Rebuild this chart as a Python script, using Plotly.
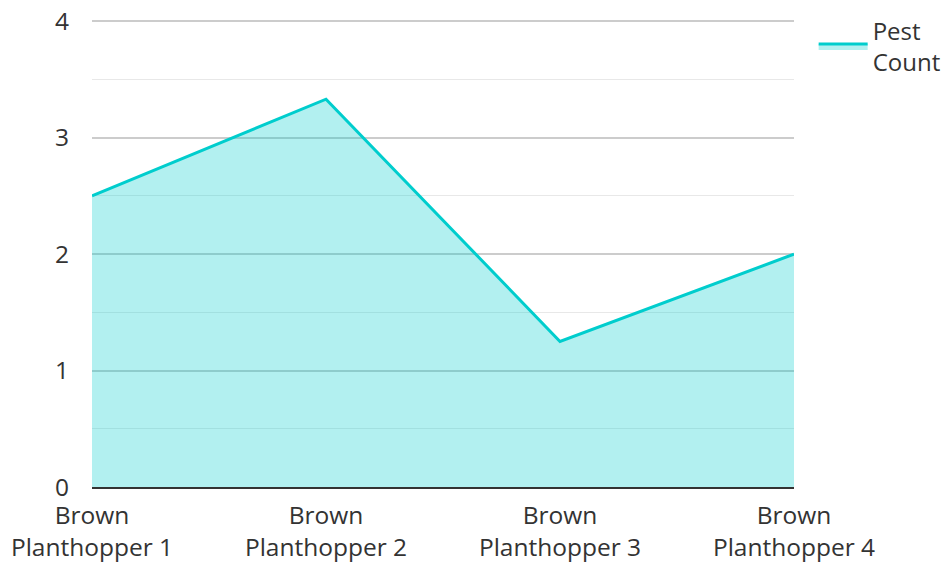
import plotly.graph_objects as go

categories = ["Brown<br>Planthopper 1", "Brown<br>Planthopper 2", "Brown<br>Planthopper 3", "Brown<br>Planthopper 4"]
pest_count = [2.5, 3.33, 1.25, 2.0]
series_name = "Pest<br>Count"

fig = go.Figure()
fig.add_trace(go.Scatter(
    x=categories, y=pest_count, name=series_name, mode="lines",
    line=dict(color="#00CDCD", width=3),
    fill="tozeroy", fillcolor="rgba(0,205,205,0.3)",
))

font = dict(family="Open Sans", size=24.5, color="#333333")
legend_font = dict(family="Open Sans", size=24, color="#333333")
fig.update_layout(
    width=943, height=555,
    margin=dict(l=84, r=157, t=12, b=76, autoexpand=False),
    paper_bgcolor="white", plot_bgcolor="white",
    font=font,
    showlegend=True,
    legend=dict(x=1.028, y=1.025, xanchor="left", yanchor="top", font=legend_font,
                itemwidth=49, bgcolor="rgba(0,0,0,0)", tracegroupgap=0),
    xaxis=dict(type="category", showgrid=False, showline=True, linecolor="#333333", linewidth=2,
               range=[0, 3], tickfont=font, ticks="", zeroline=False, automargin=False,
               ticklabelstandoff=6, ticklabeloverflow="allow"),
    yaxis=dict(range=[0, 4.01], tickvals=[0, 1, 2, 3, 4], showgrid=True, gridcolor="#cccccc", gridwidth=2,
               minor=dict(tickvals=[0.5, 1.5, 2.5, 3.5], showgrid=True, gridcolor="#e8e8e8", gridwidth=1),
               zeroline=False, showline=False, ticks="", tickfont=font,
               ticklabelstandoff=22, automargin=False, ticklabeloverflow="allow"),
)
fig.write_html("out.html")
